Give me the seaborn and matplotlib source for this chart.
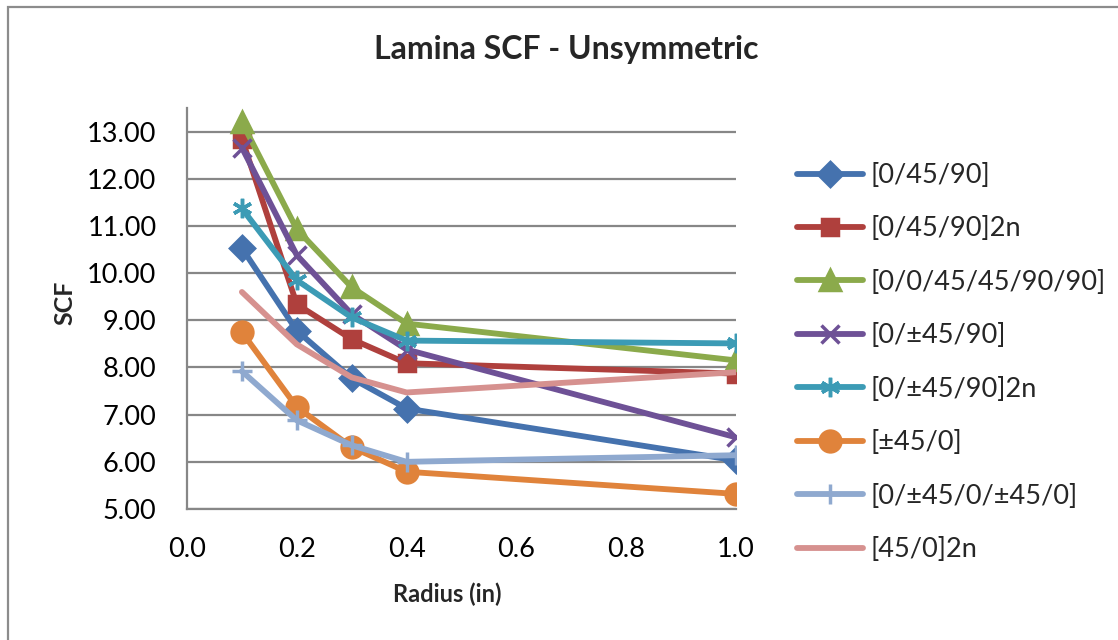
import matplotlib
matplotlib.use("Agg")
import matplotlib.pyplot as plt
import seaborn as sns
from matplotlib.patches import Rectangle

# Hole radius (in) and stress concentration factor per layup
radius = [0.1, 0.2, 0.3, 0.4, 1.0]

labels = ["[0/45/90]", "[0/45/90]2n", "[0/0/45/45/90/90]", "[0/±45/90]",
          "[0/±45/90]2n", "[±45/0]", "[0/±45/0/±45/0]", "[45/0]2n"]

scf_0_45_90 = [10.53, 8.78, 7.77, 7.13, 6.03]
scf_0_45_90_2n = [12.85, 9.34, 8.60, 8.09, 7.87]
scf_00_4545_9090 = [13.20, 10.93, 9.70, 8.93, 8.15]
scf_0_pm45_90 = [12.66, 10.38, 9.13, 8.38, 6.52]
scf_0_pm45_90_2n = [11.37, 9.85, 9.06, 8.57, 8.51]
scf_pm45_0 = [8.75, 7.16, 6.31, 5.79, 5.32]
scf_0_pm45_0_pm45_0 = [7.92, 6.88, 6.35, 6.00, 6.14]
scf_45_0_2n = [9.60, 8.49, 7.79, 7.47, 7.90]

series = [scf_0_45_90, scf_0_45_90_2n, scf_00_4545_9090, scf_0_pm45_90,
          scf_0_pm45_90_2n, scf_pm45_0, scf_0_pm45_0_pm45_0, scf_45_0_2n]

y_ticks = [5, 6, 7, 8, 9, 10, 11, 12, 13]
x_ticks = [0.0, 0.2, 0.4, 0.6, 0.8, 1.0]

colors = ["#4572AE", "#AF403D", "#8BAA4B", "#6E5196", "#3C9BB5",
          "#E0833B", "#8FA9CF", "#D6918F"]
markers = ["D", "s", "^", "x", (6, 2, 0), "o", "+", None]
msizes = [12, 12, 14, 13, 14, 15, 14, 0]

sns.set_style("white")
plt.rcParams["font.family"] = ["Lato", "DejaVu Sans"]

fig = plt.figure(figsize=(11.18, 6.40), dpi=100)
ax = fig.add_axes([187 / 1118, 1 - 509 / 640, (736 - 187) / 1118, (509 - 108) / 640])

for vals, lab, col, mk, ms in zip(series, labels, colors, markers, msizes):
    kw = dict(marker=mk, markersize=ms, markeredgewidth=2.5,
              markeredgecolor=col, markerfacecolor=col) if mk is not None else {}
    sns.lineplot(x=radius, y=vals, ax=ax, color=col, linewidth=4.2,
                 label=lab, solid_joinstyle="round", solid_capstyle="round", **kw)

ax.set_xlim(0, 1.0)
ax.set_ylim(5, 13.5)
ax.set_xticks(x_ticks)
ax.set_xticklabels([f"{v:.1f}" for v in x_ticks])
ax.set_yticks(y_ticks)
ax.set_yticklabels([f"{v:.2f}" for v in y_ticks])
ax.tick_params(axis="both", length=0, labelsize=19.5, colors="black")
ax.tick_params(axis="y", pad=22)
ax.tick_params(axis="x", pad=20)
ax.grid(axis="y", color="#878787", linewidth=1.6)
ax.grid(axis="x", visible=False)
ax.set_axisbelow(True)
for side in ("top", "right"):
    ax.spines[side].set_visible(False)
for side in ("left", "bottom"):
    ax.spines[side].set_color("#878787")
    ax.spines[side].set_linewidth(1.6)
ax.set_xlabel("")
ax.set_ylabel("")

fig.text(566 / 1118, 1 - 50 / 640, "Lamina SCF - Unsymmetric", ha="center",
         va="center", fontsize=23, fontweight="bold")
fig.text(447 / 1118, 1 - 594 / 640, "Radius (in)", ha="center", va="center",
         fontsize=17, fontweight="bold")
fig.text(65 / 1118, 1 - 303 / 640, "SCF", ha="center", va="center",
         fontsize=18, fontweight="bold", rotation=90)

ax.legend_.remove() if ax.legend_ else None
handles, hl = ax.get_legend_handles_labels()
fig.legend(handles, hl, loc="upper left",
           bbox_to_anchor=(797 / 1118, 1 - 163 / 640),
           bbox_transform=fig.transFigure, frameon=False, fontsize=19.5,
           handlelength=2.45, handletextpad=0.25, labelspacing=1.05,
           borderpad=0, borderaxespad=0)

fig.add_artist(Rectangle((8 / 1118, -0.5), 2.0, 0.5 + (1 - 7 / 640),
                         transform=fig.transFigure, fill=False,
                         edgecolor="#8c8c8c", linewidth=1.6))

fig.savefig("out.png", dpi=100)
